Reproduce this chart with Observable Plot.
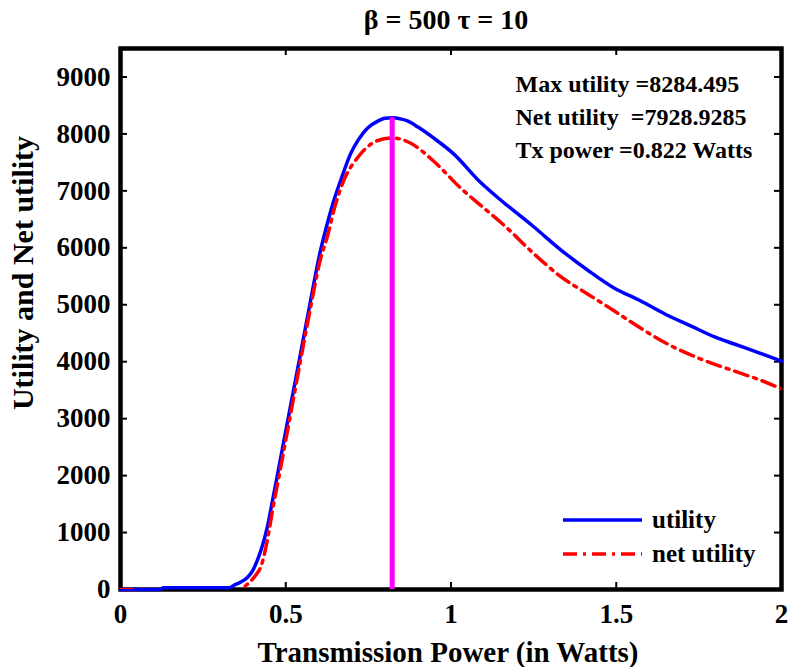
<!DOCTYPE html>
<html><head><meta charset="utf-8">
<script src="https://cdn.jsdelivr.net/npm/d3@7"></script>
<script src="https://cdn.jsdelivr.net/npm/@observablehq/plot@0.6"></script>
<style>
body{margin:0;background:#fff}
#wrap{position:relative;width:790px;height:667px;font-family:"Liberation Serif","Times New Roman",serif;font-weight:bold}
#legend{position:absolute;left:0;top:0}
</style>
</head><body><div id="wrap"></div>
<script>
const titleText = "β = 500 τ = 10";
const xLabel = "Transmission Power (in Watts)";
const yLabel = "Utility and Net utility";
const xTicks = [0, 0.5, 1, 1.5, 2];
const xTickLabels = ["0", "0.5", "1", "1.5", "2"];
const yTicks = [0, 1000, 2000, 3000, 4000, 5000, 6000, 7000, 8000, 9000];
const seriesNames = ["utility", "net utility"];
const annotations = ["Max utility =8284.495", "Net utility\u00a0 =7928.9285", "Tx power =0.822 Watts"];
const peakPower = [0.822];
const peakUtility = [8284.495];

const utilX = [0, 0.12, 0.13, 0.33, 0.342, 0.36, 0.384, 0.4, 0.414, 0.43, 0.444, 0.46, 0.48, 0.5, 0.517, 0.545, 0.575, 0.605, 0.62, 0.645, 0.672, 0.696, 0.72, 0.747, 0.78, 0.8, 0.822, 0.85, 0.868, 0.9, 0.947, 1.008, 1.089, 1.15, 1.171, 1.25, 1.331, 1.413, 1.492, 1.573, 1.65, 1.725, 1.8, 1.855, 1.93, 2];
const utilY = [0, 0, 30, 30, 70, 120, 210, 330, 510, 780, 1090, 1560, 2170, 2780, 3300, 4150, 5070, 5950, 6300, 6820, 7280, 7650, 7900, 8100, 8230, 8275, 8284, 8260, 8230, 8120, 7930, 7650, 7150, 6840, 6740, 6370, 5970, 5610, 5300, 5070, 4830, 4630, 4430, 4315, 4160, 4010];

const netX = [0, 0.03, 0.05, 0.36, 0.373, 0.39, 0.41, 0.424, 0.448, 0.46, 0.48, 0.5, 0.517, 0.545, 0.575, 0.605, 0.626, 0.65, 0.675, 0.717, 0.777, 0.822, 0.877, 0.947, 1.029, 1.089, 1.15, 1.171, 1.25, 1.331, 1.413, 1.492, 1.552, 1.654, 1.75, 1.855, 1.93, 2];
const netY = [0, 0, -40, -200, 20, 120, 260, 390, 980, 1390, 2000, 2620, 3150, 4030, 4950, 5800, 6200, 6750, 7175, 7580, 7880, 7929, 7840, 7525, 7050, 6750, 6450, 6340, 5900, 5500, 5190, 4900, 4670, 4315, 4060, 3840, 3690, 3525];

const util = utilX.map((x, i) => ({x, y: utilY[i]}));
const net = netX.map((x, i) => ({x, y: netY[i]}));

const W = 790, H = 667, ML = 120, MR = 9, MT = 48, MB = 78;
const FW = W - ML - MR, FH = H - MT - MB;
const font = "'Liberation Serif','Times New Roman',serif";
const dashDot = "14,6,3,6";
const tk = 7;

const plot = Plot.plot({
  width: W, height: H,
  marginLeft: ML, marginRight: MR, marginTop: MT, marginBottom: MB,
  style: {fontFamily: font, fontWeight: "bold", background: "white", color: "black", overflow: "visible"},
  x: {domain: [0, 2]},
  y: {domain: [0, 9500]},
  marks: [
    // inward ticks
    Plot.tickX(xTicks, {x: d => d, insetTop: FH - tk, stroke: "black", strokeWidth: 2}),
    Plot.tickX(xTicks, {x: d => d, insetBottom: FH - tk, stroke: "black", strokeWidth: 2}),
    Plot.tickY(yTicks, {y: d => d, insetRight: FW - tk, stroke: "black", strokeWidth: 2}),
    Plot.tickY(yTicks, {y: d => d, insetLeft: FW - tk, stroke: "black", strokeWidth: 2}),
    Plot.frame({stroke: "black", strokeWidth: 4.5}),
    Plot.line(util, {x: "x", y: "y", stroke: "#0000ff", strokeWidth: 3.5, curve: "monotone-x"}),
    Plot.line(net, {x: "x", y: "y", stroke: "#ff0000", strokeWidth: 3.5, strokeDasharray: dashDot, curve: "monotone-x", clip: true}),
    Plot.ruleX(peakPower, {x: d => d, y1: 0, y2: (d, i) => peakUtility[i], stroke: "#ff00ff", strokeWidth: 5}),
    Plot.axisX(xTicks, {tickSize: 0, tickPadding: 14, fontSize: 27, fontWeight: "bold", tickFormat: d => xTickLabels[xTicks.indexOf(d)], label: null}),
    Plot.axisY(yTicks, {tickSize: 0, tickPadding: 10, fontSize: 27, fontWeight: "bold", tickFormat: d => String(d), label: null}),
    Plot.text([xLabel], {frameAnchor: "bottom", text: d => d, dy: 63, dx: -3, fontSize: 29, fontWeight: "bold", lineAnchor: "middle"}),
    Plot.text([yLabel], {frameAnchor: "left", text: d => d, rotate: -90, dx: -97, dy: -46, fontSize: 30, fontWeight: "bold", textAnchor: "middle", lineAnchor: "middle"}),
    Plot.text([titleText], {frameAnchor: "top", text: d => d, dy: -28, dx: -5, fontSize: 28, fontWeight: "bold", lineAnchor: "middle"}),
    ...annotations.map((a, i) => Plot.text([a], {frameAnchor: "top-left", text: d => d, dx: 395, dy: 36 + i * 33, fontSize: 24, fontWeight: "bold", textAnchor: "start", lineAnchor: "middle"}))
  ]
});
document.getElementById("wrap").appendChild(plot);

// legend overlay
const lg = d3.select("#wrap").append("svg").attr("id", "legend").attr("width", W).attr("height", H);
const items = [{name: seriesNames[0], color: "#0000ff", dash: null, y: 520}, {name: seriesNames[1], color: "#ff0000", dash: dashDot, y: 554}];
items.forEach(it => {
  lg.append("line").attr("x1", 563).attr("x2", 642).attr("y1", it.y).attr("y2", it.y)
    .attr("stroke", it.color).attr("stroke-width", 3.5).attr("stroke-dasharray", it.dash);
  lg.append("text").attr("x", 652).attr("y", it.y).attr("dy", "0.32em")
    .style("font-family", font).style("font-weight", "bold").style("font-size", "25px").text(it.name);
});
</script>
</body></html>
